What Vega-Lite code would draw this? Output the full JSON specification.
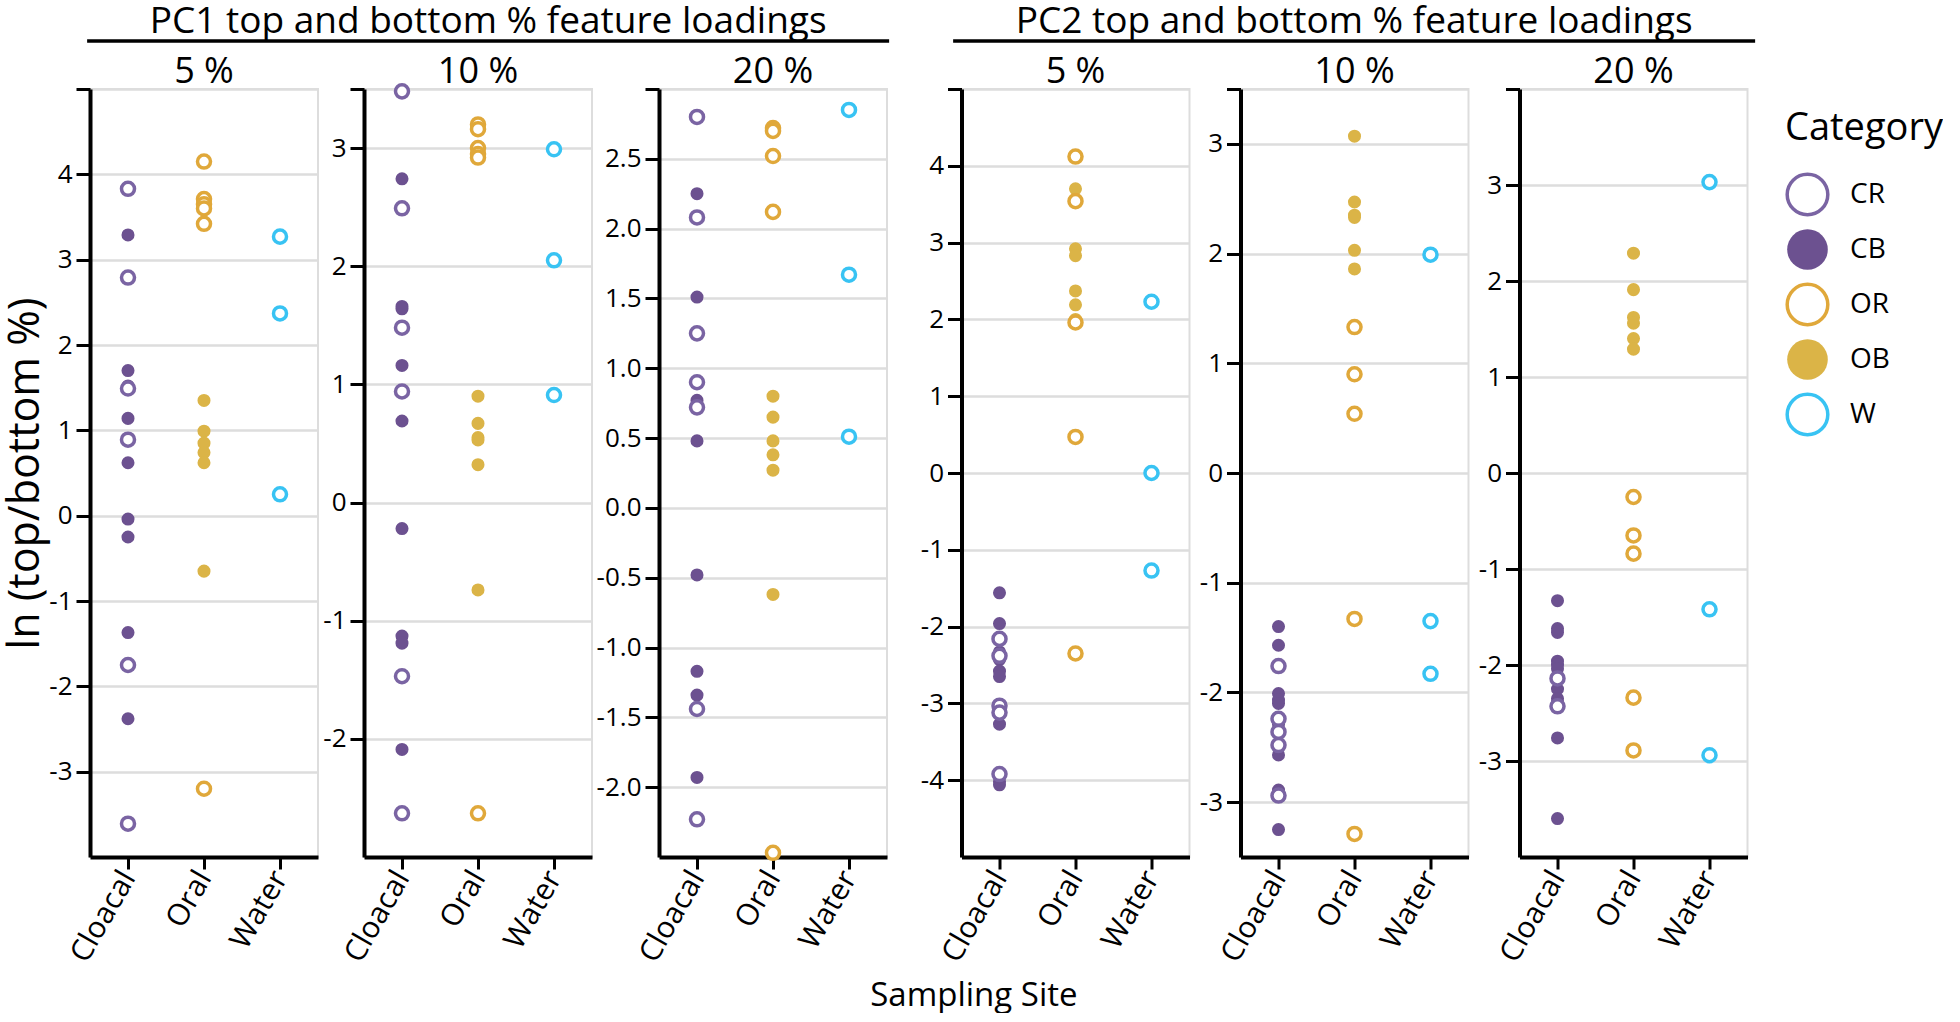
{
  "$schema": "https://vega.github.io/schema/vega-lite/v6.json",
  "background": "white",
  "padding": {"left": 4, "top": 3, "right": 0, "bottom": 0},
  "config": {
    "font": "Open Sans",
    "view": {"stroke": "#dddddd", "strokeWidth": 2},
    "axis": {"domainColor": "black", "domainWidth": 4, "tickColor": "black", "tickWidth": 3, "labelColor": "black", "labelFont": "Open Sans", "gridColor": "#dddddd", "gridWidth": 2.5, "title": null},
    "axisX": {"labelAngle": -60, "labelFontSize": 30, "labelAlign": "right", "labelBaseline": "middle", "grid": false, "tickSize": 12, "labelPadding": 4},
    "axisY": {"labelFontSize": 26, "tickSize": 14, "labelPadding": 4, "grid": true},
    "legend": {"orient": "none", "legendX": 1698, "legendY": 69, "titleFontSize": 38, "titleFont": "Open Sans", "titleFontWeight": "normal", "titleColor": "black", "titlePadding": 24, "labelFontSize": 28, "labelFont": "Open Sans", "labelColor": "black", "symbolType": "circle", "symbolSize": 1650, "symbolStrokeWidth": 3.5, "rowPadding": 0, "labelOffset": 20, "padding": 0}
  },
  "datasets": {
    "pts": [
      {"panel": "PC1-5", "site": "Cloacal", "cat": "CB", "v": 3.29},
      {"panel": "PC1-5", "site": "Cloacal", "cat": "CB", "v": 1.70},
      {"panel": "PC1-5", "site": "Cloacal", "cat": "CB", "v": 1.52},
      {"panel": "PC1-5", "site": "Cloacal", "cat": "CB", "v": 1.14},
      {"panel": "PC1-5", "site": "Cloacal", "cat": "CB", "v": 0.62},
      {"panel": "PC1-5", "site": "Cloacal", "cat": "CB", "v": -0.04},
      {"panel": "PC1-5", "site": "Cloacal", "cat": "CB", "v": -0.25},
      {"panel": "PC1-5", "site": "Cloacal", "cat": "CB", "v": -1.37},
      {"panel": "PC1-5", "site": "Cloacal", "cat": "CB", "v": -2.38},
      {"panel": "PC1-5", "site": "Oral", "cat": "OB", "v": 1.35},
      {"panel": "PC1-5", "site": "Oral", "cat": "OB", "v": 0.99},
      {"panel": "PC1-5", "site": "Oral", "cat": "OB", "v": 0.85},
      {"panel": "PC1-5", "site": "Oral", "cat": "OB", "v": 0.74},
      {"panel": "PC1-5", "site": "Oral", "cat": "OB", "v": 0.62},
      {"panel": "PC1-5", "site": "Oral", "cat": "OB", "v": -0.65},
      {"panel": "PC1-5", "site": "Cloacal", "cat": "CR", "v": 3.83},
      {"panel": "PC1-5", "site": "Cloacal", "cat": "CR", "v": 2.79},
      {"panel": "PC1-5", "site": "Cloacal", "cat": "CR", "v": 1.49},
      {"panel": "PC1-5", "site": "Cloacal", "cat": "CR", "v": 0.89},
      {"panel": "PC1-5", "site": "Cloacal", "cat": "CR", "v": -1.75},
      {"panel": "PC1-5", "site": "Cloacal", "cat": "CR", "v": -3.61},
      {"panel": "PC1-5", "site": "Oral", "cat": "OR", "v": 4.15},
      {"panel": "PC1-5", "site": "Oral", "cat": "OR", "v": 3.71},
      {"panel": "PC1-5", "site": "Oral", "cat": "OR", "v": 3.65},
      {"panel": "PC1-5", "site": "Oral", "cat": "OR", "v": 3.60},
      {"panel": "PC1-5", "site": "Oral", "cat": "OR", "v": 3.42},
      {"panel": "PC1-5", "site": "Oral", "cat": "OR", "v": -3.20},
      {"panel": "PC1-5", "site": "Water", "cat": "W", "v": 3.27},
      {"panel": "PC1-5", "site": "Water", "cat": "W", "v": 2.37},
      {"panel": "PC1-5", "site": "Water", "cat": "W", "v": 0.25},

      {"panel": "PC1-10", "site": "Cloacal", "cat": "CB", "v": 2.74},
      {"panel": "PC1-10", "site": "Cloacal", "cat": "CB", "v": 1.66},
      {"panel": "PC1-10", "site": "Cloacal", "cat": "CB", "v": 1.64},
      {"panel": "PC1-10", "site": "Cloacal", "cat": "CB", "v": 1.16},
      {"panel": "PC1-10", "site": "Cloacal", "cat": "CB", "v": 0.69},
      {"panel": "PC1-10", "site": "Cloacal", "cat": "CB", "v": -0.22},
      {"panel": "PC1-10", "site": "Cloacal", "cat": "CB", "v": -1.13},
      {"panel": "PC1-10", "site": "Cloacal", "cat": "CB", "v": -1.19},
      {"panel": "PC1-10", "site": "Cloacal", "cat": "CB", "v": -2.09},
      {"panel": "PC1-10", "site": "Oral", "cat": "OB", "v": 0.90},
      {"panel": "PC1-10", "site": "Oral", "cat": "OB", "v": 0.67},
      {"panel": "PC1-10", "site": "Oral", "cat": "OB", "v": 0.55},
      {"panel": "PC1-10", "site": "Oral", "cat": "OB", "v": 0.53},
      {"panel": "PC1-10", "site": "Oral", "cat": "OB", "v": 0.32},
      {"panel": "PC1-10", "site": "Oral", "cat": "OB", "v": -0.74},
      {"panel": "PC1-10", "site": "Cloacal", "cat": "CR", "v": 3.48},
      {"panel": "PC1-10", "site": "Cloacal", "cat": "CR", "v": 2.49},
      {"panel": "PC1-10", "site": "Cloacal", "cat": "CR", "v": 1.48},
      {"panel": "PC1-10", "site": "Cloacal", "cat": "CR", "v": 0.94},
      {"panel": "PC1-10", "site": "Cloacal", "cat": "CR", "v": -1.47},
      {"panel": "PC1-10", "site": "Cloacal", "cat": "CR", "v": -2.63},
      {"panel": "PC1-10", "site": "Oral", "cat": "OR", "v": 3.20},
      {"panel": "PC1-10", "site": "Oral", "cat": "OR", "v": 3.16},
      {"panel": "PC1-10", "site": "Oral", "cat": "OR", "v": 3.00},
      {"panel": "PC1-10", "site": "Oral", "cat": "OR", "v": 2.95},
      {"panel": "PC1-10", "site": "Oral", "cat": "OR", "v": 2.92},
      {"panel": "PC1-10", "site": "Oral", "cat": "OR", "v": -2.63},
      {"panel": "PC1-10", "site": "Water", "cat": "W", "v": 2.99},
      {"panel": "PC1-10", "site": "Water", "cat": "W", "v": 2.05},
      {"panel": "PC1-10", "site": "Water", "cat": "W", "v": 0.91},

      {"panel": "PC1-20", "site": "Cloacal", "cat": "CB", "v": 2.25},
      {"panel": "PC1-20", "site": "Cloacal", "cat": "CB", "v": 1.51},
      {"panel": "PC1-20", "site": "Cloacal", "cat": "CB", "v": 0.77},
      {"panel": "PC1-20", "site": "Cloacal", "cat": "CB", "v": 0.48},
      {"panel": "PC1-20", "site": "Cloacal", "cat": "CB", "v": -0.48},
      {"panel": "PC1-20", "site": "Cloacal", "cat": "CB", "v": -1.17},
      {"panel": "PC1-20", "site": "Cloacal", "cat": "CB", "v": -1.34},
      {"panel": "PC1-20", "site": "Cloacal", "cat": "CB", "v": -1.93},
      {"panel": "PC1-20", "site": "Oral", "cat": "OB", "v": 0.80},
      {"panel": "PC1-20", "site": "Oral", "cat": "OB", "v": 0.65},
      {"panel": "PC1-20", "site": "Oral", "cat": "OB", "v": 0.48},
      {"panel": "PC1-20", "site": "Oral", "cat": "OB", "v": 0.38},
      {"panel": "PC1-20", "site": "Oral", "cat": "OB", "v": 0.27},
      {"panel": "PC1-20", "site": "Oral", "cat": "OB", "v": -0.62},
      {"panel": "PC1-20", "site": "Cloacal", "cat": "CR", "v": 2.80},
      {"panel": "PC1-20", "site": "Cloacal", "cat": "CR", "v": 2.08},
      {"panel": "PC1-20", "site": "Cloacal", "cat": "CR", "v": 1.25},
      {"panel": "PC1-20", "site": "Cloacal", "cat": "CR", "v": 0.90},
      {"panel": "PC1-20", "site": "Cloacal", "cat": "CR", "v": 0.72},
      {"panel": "PC1-20", "site": "Cloacal", "cat": "CR", "v": -1.44},
      {"panel": "PC1-20", "site": "Cloacal", "cat": "CR", "v": -2.23},
      {"panel": "PC1-20", "site": "Oral", "cat": "OR", "v": 2.72},
      {"panel": "PC1-20", "site": "Oral", "cat": "OR", "v": 2.70},
      {"panel": "PC1-20", "site": "Oral", "cat": "OR", "v": 2.52},
      {"panel": "PC1-20", "site": "Oral", "cat": "OR", "v": 2.12},
      {"panel": "PC1-20", "site": "Oral", "cat": "OR", "v": -2.47},
      {"panel": "PC1-20", "site": "Water", "cat": "W", "v": 2.85},
      {"panel": "PC1-20", "site": "Water", "cat": "W", "v": 1.67},
      {"panel": "PC1-20", "site": "Water", "cat": "W", "v": 0.51},

      {"panel": "PC2-5", "site": "Cloacal", "cat": "CB", "v": -1.56},
      {"panel": "PC2-5", "site": "Cloacal", "cat": "CB", "v": -1.96},
      {"panel": "PC2-5", "site": "Cloacal", "cat": "CB", "v": -2.33},
      {"panel": "PC2-5", "site": "Cloacal", "cat": "CB", "v": -2.43},
      {"panel": "PC2-5", "site": "Cloacal", "cat": "CB", "v": -2.58},
      {"panel": "PC2-5", "site": "Cloacal", "cat": "CB", "v": -2.65},
      {"panel": "PC2-5", "site": "Cloacal", "cat": "CB", "v": -3.27},
      {"panel": "PC2-5", "site": "Cloacal", "cat": "CB", "v": -4.02},
      {"panel": "PC2-5", "site": "Cloacal", "cat": "CB", "v": -4.06},
      {"panel": "PC2-5", "site": "Oral", "cat": "OB", "v": 3.70},
      {"panel": "PC2-5", "site": "Oral", "cat": "OB", "v": 2.92},
      {"panel": "PC2-5", "site": "Oral", "cat": "OB", "v": 2.83},
      {"panel": "PC2-5", "site": "Oral", "cat": "OB", "v": 2.37},
      {"panel": "PC2-5", "site": "Oral", "cat": "OB", "v": 2.19},
      {"panel": "PC2-5", "site": "Oral", "cat": "OB", "v": 2.00},
      {"panel": "PC2-5", "site": "Cloacal", "cat": "CR", "v": -2.16},
      {"panel": "PC2-5", "site": "Cloacal", "cat": "CR", "v": -2.38},
      {"panel": "PC2-5", "site": "Cloacal", "cat": "CR", "v": -3.03},
      {"panel": "PC2-5", "site": "Cloacal", "cat": "CR", "v": -3.12},
      {"panel": "PC2-5", "site": "Cloacal", "cat": "CR", "v": -3.92},
      {"panel": "PC2-5", "site": "Oral", "cat": "OR", "v": 4.12},
      {"panel": "PC2-5", "site": "Oral", "cat": "OR", "v": 3.54},
      {"panel": "PC2-5", "site": "Oral", "cat": "OR", "v": 1.96},
      {"panel": "PC2-5", "site": "Oral", "cat": "OR", "v": 0.47},
      {"panel": "PC2-5", "site": "Oral", "cat": "OR", "v": -2.35},
      {"panel": "PC2-5", "site": "Water", "cat": "W", "v": 2.23},
      {"panel": "PC2-5", "site": "Water", "cat": "W", "v": 0.00},
      {"panel": "PC2-5", "site": "Water", "cat": "W", "v": -1.27},

      {"panel": "PC2-10", "site": "Cloacal", "cat": "CB", "v": -1.40},
      {"panel": "PC2-10", "site": "Cloacal", "cat": "CB", "v": -1.57},
      {"panel": "PC2-10", "site": "Cloacal", "cat": "CB", "v": -2.01},
      {"panel": "PC2-10", "site": "Cloacal", "cat": "CB", "v": -2.07},
      {"panel": "PC2-10", "site": "Cloacal", "cat": "CB", "v": -2.10},
      {"panel": "PC2-10", "site": "Cloacal", "cat": "CB", "v": -2.29},
      {"panel": "PC2-10", "site": "Cloacal", "cat": "CB", "v": -2.57},
      {"panel": "PC2-10", "site": "Cloacal", "cat": "CB", "v": -2.89},
      {"panel": "PC2-10", "site": "Cloacal", "cat": "CB", "v": -3.25},
      {"panel": "PC2-10", "site": "Oral", "cat": "OB", "v": 3.07},
      {"panel": "PC2-10", "site": "Oral", "cat": "OB", "v": 2.47},
      {"panel": "PC2-10", "site": "Oral", "cat": "OB", "v": 2.35},
      {"panel": "PC2-10", "site": "Oral", "cat": "OB", "v": 2.33},
      {"panel": "PC2-10", "site": "Oral", "cat": "OB", "v": 2.03},
      {"panel": "PC2-10", "site": "Oral", "cat": "OB", "v": 1.86},
      {"panel": "PC2-10", "site": "Cloacal", "cat": "CR", "v": -1.76},
      {"panel": "PC2-10", "site": "Cloacal", "cat": "CR", "v": -2.24},
      {"panel": "PC2-10", "site": "Cloacal", "cat": "CR", "v": -2.36},
      {"panel": "PC2-10", "site": "Cloacal", "cat": "CR", "v": -2.48},
      {"panel": "PC2-10", "site": "Cloacal", "cat": "CR", "v": -2.94},
      {"panel": "PC2-10", "site": "Oral", "cat": "OR", "v": 1.33},
      {"panel": "PC2-10", "site": "Oral", "cat": "OR", "v": 0.90},
      {"panel": "PC2-10", "site": "Oral", "cat": "OR", "v": 0.54},
      {"panel": "PC2-10", "site": "Oral", "cat": "OR", "v": -1.33},
      {"panel": "PC2-10", "site": "Oral", "cat": "OR", "v": -3.29},
      {"panel": "PC2-10", "site": "Water", "cat": "W", "v": 1.99},
      {"panel": "PC2-10", "site": "Water", "cat": "W", "v": -1.35},
      {"panel": "PC2-10", "site": "Water", "cat": "W", "v": -1.83},

      {"panel": "PC2-20", "site": "Cloacal", "cat": "CB", "v": -1.33},
      {"panel": "PC2-20", "site": "Cloacal", "cat": "CB", "v": -1.62},
      {"panel": "PC2-20", "site": "Cloacal", "cat": "CB", "v": -1.66},
      {"panel": "PC2-20", "site": "Cloacal", "cat": "CB", "v": -1.96},
      {"panel": "PC2-20", "site": "Cloacal", "cat": "CB", "v": -2.00},
      {"panel": "PC2-20", "site": "Cloacal", "cat": "CB", "v": -2.04},
      {"panel": "PC2-20", "site": "Cloacal", "cat": "CB", "v": -2.25},
      {"panel": "PC2-20", "site": "Cloacal", "cat": "CB", "v": -2.35},
      {"panel": "PC2-20", "site": "Cloacal", "cat": "CB", "v": -2.39},
      {"panel": "PC2-20", "site": "Cloacal", "cat": "CB", "v": -2.76},
      {"panel": "PC2-20", "site": "Cloacal", "cat": "CB", "v": -3.60},
      {"panel": "PC2-20", "site": "Oral", "cat": "OB", "v": 2.29},
      {"panel": "PC2-20", "site": "Oral", "cat": "OB", "v": 1.91},
      {"panel": "PC2-20", "site": "Oral", "cat": "OB", "v": 1.62},
      {"panel": "PC2-20", "site": "Oral", "cat": "OB", "v": 1.56},
      {"panel": "PC2-20", "site": "Oral", "cat": "OB", "v": 1.40},
      {"panel": "PC2-20", "site": "Oral", "cat": "OB", "v": 1.29},
      {"panel": "PC2-20", "site": "Cloacal", "cat": "CR", "v": -2.14},
      {"panel": "PC2-20", "site": "Cloacal", "cat": "CR", "v": -2.43},
      {"panel": "PC2-20", "site": "Oral", "cat": "OR", "v": -0.25},
      {"panel": "PC2-20", "site": "Oral", "cat": "OR", "v": -0.65},
      {"panel": "PC2-20", "site": "Oral", "cat": "OR", "v": -0.84},
      {"panel": "PC2-20", "site": "Oral", "cat": "OR", "v": -2.34},
      {"panel": "PC2-20", "site": "Oral", "cat": "OR", "v": -2.89},
      {"panel": "PC2-20", "site": "Water", "cat": "W", "v": 3.03},
      {"panel": "PC2-20", "site": "Water", "cat": "W", "v": -1.42},
      {"panel": "PC2-20", "site": "Water", "cat": "W", "v": -2.94}
    ]
  },
  "data": {"name": "pts"},
  "title": {"text": "Sampling Site", "orient": "bottom", "anchor": "middle", "fontSize": 33, "fontWeight": "normal", "font": "Open Sans", "color": "black", "offset": 12},
  "spacing": 28,
  "resolve": {"scale": {"y": "independent", "x": "independent"}},
  "hconcat": [
    {
      "title": {"text": "ln (top/bottom %)", "orient": "left", "anchor": "middle", "fontSize": 43, "fontWeight": "normal", "font": "Open Sans", "color": "black", "offset": 0, "dx": 12},
      "center": true,
      "spacing": 9,
      "resolve": {"scale": {"y": "independent", "x": "independent"}},
      "vconcat": [
        {
          "data": {"values": [{"u": 1}]},
          "width": 802, "height": 2,
          "view": {"stroke": null},
          "title": {"text": "PC1 top and bottom % feature loadings", "fontSize": 37, "fontWeight": "normal", "font": "Open Sans", "color": "black", "anchor": "middle", "offset": -2},
          "mark": {"type": "rule", "color": "black", "strokeWidth": 3.5},
          "encoding": {"y": {"field": "u", "type": "quantitative", "scale": {"domain": [0, 1]}, "axis": null}}
        },
        {
          "spacing": 2,
          "resolve": {"scale": {"y": "independent", "x": "independent"}},
          "hconcat": [
            {
              "width": 228, "height": 768,
              "title": {"text": "5 %", "fontSize": 36, "fontWeight": "normal", "font": "Open Sans", "color": "black", "offset": -3},
              "transform": [{"filter": "datum.panel == 'PC1-5'"}],
              "mark": {"type": "point", "shape": "circle", "size": 170, "strokeWidth": 3.5, "opacity": 1, "filled": true},
              "encoding": {
                "x": {"field": "site", "type": "nominal", "scale": {"type": "point", "domain": ["Cloacal", "Oral", "Water"], "padding": 0.5}},
                "y": {"field": "v", "type": "quantitative", "scale": {"domain": [-4, 5], "nice": false, "zero": false}, "axis": {"values": [-3, -2, -1, 0, 1, 2, 3, 4, 5], "format": "d", "labelExpr": "datum.value == 5 ? '' : replace(datum.label, '−', '-')"}},
                "fill": {"field": "cat", "type": "nominal", "title": "Category", "scale": {"domain": ["CR", "CB", "OR", "OB", "W"], "range": ["white", "#6c5190", "white", "#dbb447", "white"]}},
                "stroke": {"field": "cat", "type": "nominal", "title": "Category", "scale": {"domain": ["CR", "CB", "OR", "OB", "W"], "range": ["#7a64a3", "transparent", "#e0a83a", "transparent", "#38c3f3"]}}
              }
            },
            {
              "width": 228, "height": 768,
              "title": {"text": "10 %", "fontSize": 36, "fontWeight": "normal", "font": "Open Sans", "color": "black", "offset": -13},
              "transform": [{"filter": "datum.panel == 'PC1-10'"}],
              "mark": {"type": "point", "shape": "circle", "size": 170, "strokeWidth": 3.5, "opacity": 1, "filled": true},
              "encoding": {
                "x": {"field": "site", "type": "nominal", "scale": {"type": "point", "domain": ["Cloacal", "Oral", "Water"], "padding": 0.5}},
                "y": {"field": "v", "type": "quantitative", "scale": {"domain": [-3, 3.5], "nice": false, "zero": false}, "axis": {"values": [-2, -1, 0, 1, 2, 3, 3.5], "format": "d", "labelExpr": "datum.value == 3.5 ? '' : replace(datum.label, '−', '-')"}},
                "fill": {"field": "cat", "type": "nominal", "title": "Category", "scale": {"domain": ["CR", "CB", "OR", "OB", "W"], "range": ["white", "#6c5190", "white", "#dbb447", "white"]}},
                "stroke": {"field": "cat", "type": "nominal", "title": "Category", "scale": {"domain": ["CR", "CB", "OR", "OB", "W"], "range": ["#7a64a3", "transparent", "#e0a83a", "transparent", "#38c3f3"]}}
              }
            },
            {
              "width": 228, "height": 768,
              "title": {"text": "20 %", "fontSize": 36, "fontWeight": "normal", "font": "Open Sans", "color": "black", "offset": -3},
              "transform": [{"filter": "datum.panel == 'PC1-20'"}],
              "mark": {"type": "point", "shape": "circle", "size": 170, "strokeWidth": 3.5, "opacity": 1, "filled": true},
              "encoding": {
                "x": {"field": "site", "type": "nominal", "scale": {"type": "point", "domain": ["Cloacal", "Oral", "Water"], "padding": 0.5}},
                "y": {"field": "v", "type": "quantitative", "scale": {"domain": [-2.5, 3], "nice": false, "zero": false}, "axis": {"values": [-2, -1.5, -1, -0.5, 0, 0.5, 1, 1.5, 2, 2.5, 3], "format": ".1f", "labelExpr": "datum.value == 3 ? '' : replace(datum.label, '−', '-')"}},
                "fill": {"field": "cat", "type": "nominal", "title": "Category", "scale": {"domain": ["CR", "CB", "OR", "OB", "W"], "range": ["white", "#6c5190", "white", "#dbb447", "white"]}},
                "stroke": {"field": "cat", "type": "nominal", "title": "Category", "scale": {"domain": ["CR", "CB", "OR", "OB", "W"], "range": ["#7a64a3", "transparent", "#e0a83a", "transparent", "#38c3f3"]}}
              }
            }
          ]
        }
      ]
    },
    {
      "center": true,
      "spacing": 9,
      "resolve": {"scale": {"y": "independent", "x": "independent"}},
      "vconcat": [
        {
          "data": {"values": [{"u": 1}]},
          "width": 802, "height": 2,
          "view": {"stroke": null},
          "title": {"text": "PC2 top and bottom % feature loadings", "fontSize": 37, "fontWeight": "normal", "font": "Open Sans", "color": "black", "anchor": "middle", "offset": -2},
          "mark": {"type": "rule", "color": "black", "strokeWidth": 3.5},
          "encoding": {"y": {"field": "u", "type": "quantitative", "scale": {"domain": [0, 1]}, "axis": null}}
        },
        {
          "spacing": 7,
          "resolve": {"scale": {"y": "independent", "x": "independent"}},
          "hconcat": [
            {
              "width": 228, "height": 768,
              "title": {"text": "5 %", "fontSize": 36, "fontWeight": "normal", "font": "Open Sans", "color": "black", "offset": -3},
              "transform": [{"filter": "datum.panel == 'PC2-5'"}],
              "mark": {"type": "point", "shape": "circle", "size": 170, "strokeWidth": 3.5, "opacity": 1, "filled": true},
              "encoding": {
                "x": {"field": "site", "type": "nominal", "scale": {"type": "point", "domain": ["Cloacal", "Oral", "Water"], "padding": 0.5}},
                "y": {"field": "v", "type": "quantitative", "scale": {"domain": [-5, 5], "nice": false, "zero": false}, "axis": {"values": [-4, -3, -2, -1, 0, 1, 2, 3, 4, 5], "format": "d", "labelExpr": "datum.value == 5 ? '' : replace(datum.label, '−', '-')"}},
                "fill": {"field": "cat", "type": "nominal", "title": "Category", "scale": {"domain": ["CR", "CB", "OR", "OB", "W"], "range": ["white", "#6c5190", "white", "#dbb447", "white"]}},
                "stroke": {"field": "cat", "type": "nominal", "title": "Category", "scale": {"domain": ["CR", "CB", "OR", "OB", "W"], "range": ["#7a64a3", "transparent", "#e0a83a", "transparent", "#38c3f3"]}}
              }
            },
            {
              "width": 228, "height": 768,
              "title": {"text": "10 %", "fontSize": 36, "fontWeight": "normal", "font": "Open Sans", "color": "black", "offset": -3},
              "transform": [{"filter": "datum.panel == 'PC2-10'"}],
              "mark": {"type": "point", "shape": "circle", "size": 170, "strokeWidth": 3.5, "opacity": 1, "filled": true},
              "encoding": {
                "x": {"field": "site", "type": "nominal", "scale": {"type": "point", "domain": ["Cloacal", "Oral", "Water"], "padding": 0.5}},
                "y": {"field": "v", "type": "quantitative", "scale": {"domain": [-3.5, 3.5], "nice": false, "zero": false}, "axis": {"values": [-3, -2, -1, 0, 1, 2, 3, 3.5], "format": "d", "labelExpr": "datum.value == 3.5 ? '' : replace(datum.label, '−', '-')"}},
                "fill": {"field": "cat", "type": "nominal", "title": "Category", "scale": {"domain": ["CR", "CB", "OR", "OB", "W"], "range": ["white", "#6c5190", "white", "#dbb447", "white"]}},
                "stroke": {"field": "cat", "type": "nominal", "title": "Category", "scale": {"domain": ["CR", "CB", "OR", "OB", "W"], "range": ["#7a64a3", "transparent", "#e0a83a", "transparent", "#38c3f3"]}}
              }
            },
            {
              "width": 228, "height": 768,
              "title": {"text": "20 %", "fontSize": 36, "fontWeight": "normal", "font": "Open Sans", "color": "black", "offset": -3},
              "transform": [{"filter": "datum.panel == 'PC2-20'"}],
              "mark": {"type": "point", "shape": "circle", "size": 170, "strokeWidth": 3.5, "opacity": 1, "filled": true},
              "encoding": {
                "x": {"field": "site", "type": "nominal", "scale": {"type": "point", "domain": ["Cloacal", "Oral", "Water"], "padding": 0.5}},
                "y": {"field": "v", "type": "quantitative", "scale": {"domain": [-4, 4], "nice": false, "zero": false}, "axis": {"values": [-3, -2, -1, 0, 1, 2, 3, 4], "format": "d", "labelExpr": "datum.value == 4 ? '' : replace(datum.label, '−', '-')"}},
                "fill": {"field": "cat", "type": "nominal", "title": "Category", "scale": {"domain": ["CR", "CB", "OR", "OB", "W"], "range": ["white", "#6c5190", "white", "#dbb447", "white"]}},
                "stroke": {"field": "cat", "type": "nominal", "title": "Category", "scale": {"domain": ["CR", "CB", "OR", "OB", "W"], "range": ["#7a64a3", "transparent", "#e0a83a", "transparent", "#38c3f3"]}}
              }
            }
          ]
        }
      ]
    }
  ]
}
